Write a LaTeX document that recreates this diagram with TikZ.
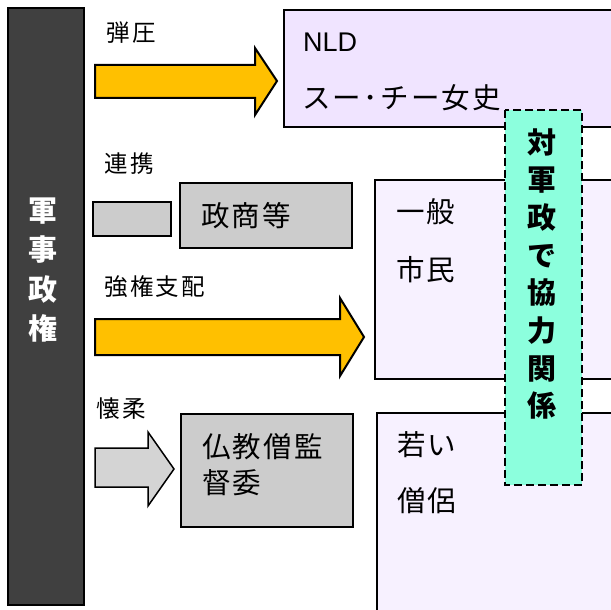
\documentclass[tikz,border=0pt]{standalone}
\usepackage{fontspec}
\setmainfont{Noto Sans CJK JP}
\newfontfamily\lbl{Noto Sans CJK JP}[LetterSpace=10]
\newfontfamily\boxfont{Noto Sans CJK JP}[LetterSpace=8]
\newfontfamily\latin{Liberation Sans}
\definecolor{darkbar}{HTML}{404040}
\definecolor{ylw}{HTML}{FFC000}
\definecolor{gry}{HTML}{CCCCCC}
\definecolor{gryarrow}{HTML}{D4D4D4}
\definecolor{lav}{HTML}{F0E4FF}
\definecolor{lavlight}{HTML}{F7F1FF}
\definecolor{aqua}{HTML}{8CFFDD}
\tikzset{
  lab/.style={anchor=west,inner sep=0pt,font=\lbl\fontsize{23.5}{23.5}\selectfont},
  boxtext/.style={anchor=west,inner sep=0pt,font=\boxfont\fontsize{28.5}{28.5}\selectfont},
  vtext/.style={inner sep=0pt,align=center,font=\bfseries\fontsize{29}{#1}\selectfont},
  graybox/.style={fill=gry,draw=black,line width=1.5pt},
  pinkbox/.style={fill=lavlight,draw=black,line width=1.5pt},
  yarrow/.style={fill=ylw,draw=black,line width=2pt,line join=miter},
  garrow/.style={fill=gryarrow,draw=black,line width=1.5pt,line join=miter}
}
\begin{document}
\begin{tikzpicture}[x=1pt,y=-1pt]
\useasboundingbox (0,0) rectangle (611,610);
\clip (0,0) rectangle (611,610);
\fill[white] (0,0) rectangle (611,610);
% dark bar
\draw[fill=darkbar,line width=2pt] (8,8) rectangle (84,605);
\node[vtext=39.5pt,text=white] (bar) at (43,270) {軍\\事\\政\\権};
% NLD box
\draw[fill=lav,line width=2pt] (284,10) rectangle (625,127);
\node[anchor=west,inner sep=0pt,font=\latin\fontsize{27}{27}\selectfont] (nld) at (303,42) {NLD};
\node[boxtext] (suu) at (302,98) {スー･チー女史};
% arrow 1
\draw[yarrow] (95,65) -- (255,65) -- (255,48) -- (277,81) -- (255,115) -- (255,98) -- (95,98) -- cycle;
\node[lab] (l1) at (106,33) {弾圧};
% renkei
\node[lab] (l2) at (104,164) {連携};
\draw[graybox] (93,202) rectangle (171,236);
\draw[graybox] (180,183) rectangle (352,248);
\node[boxtext] (seisho) at (201,216) {政商等};
% civilians
\draw[pinkbox] (375,180) rectangle (625,379);
\node[boxtext] (ippan) at (396,212) {一般};
\node[boxtext] (shimin) at (396,270) {市民};
% arrow 2
\node[lab] (l3) at (104,287) {強権支配};
\draw[yarrow] (95,319) -- (340,319) -- (340,298) -- (364,337) -- (340,376) -- (340,355) -- (95,355) -- cycle;
% arrow 3
\node[lab] (l4) at (96,409) {懐柔};
\draw[garrow] (95,448) -- (148,448) -- (148,432) -- (174,469) -- (148,506) -- (148,487) -- (95,487) -- cycle;
\draw[graybox] (181,414) rectangle (353,527);
\node[boxtext] (bukkyo) at (202,447) {仏教僧監};
\node[boxtext] (iin) at (202,483) {督委};
% young monks
\draw[pinkbox] (377,413) rectangle (625,625);
\node[boxtext] (wakai) at (397,445) {若い};
\node[boxtext] (soryo) at (397,501) {僧侶};
% green dashed box
\draw[fill=aqua,draw=black,line width=2pt,dash pattern=on 8pt off 4pt] (505,110) rectangle (582,485);
\node[vtext=37.7pt] (kyoryoku) at (542,274) {対\\軍\\政\\で\\協\\力\\関\\係};
\end{tikzpicture}
\end{document}
